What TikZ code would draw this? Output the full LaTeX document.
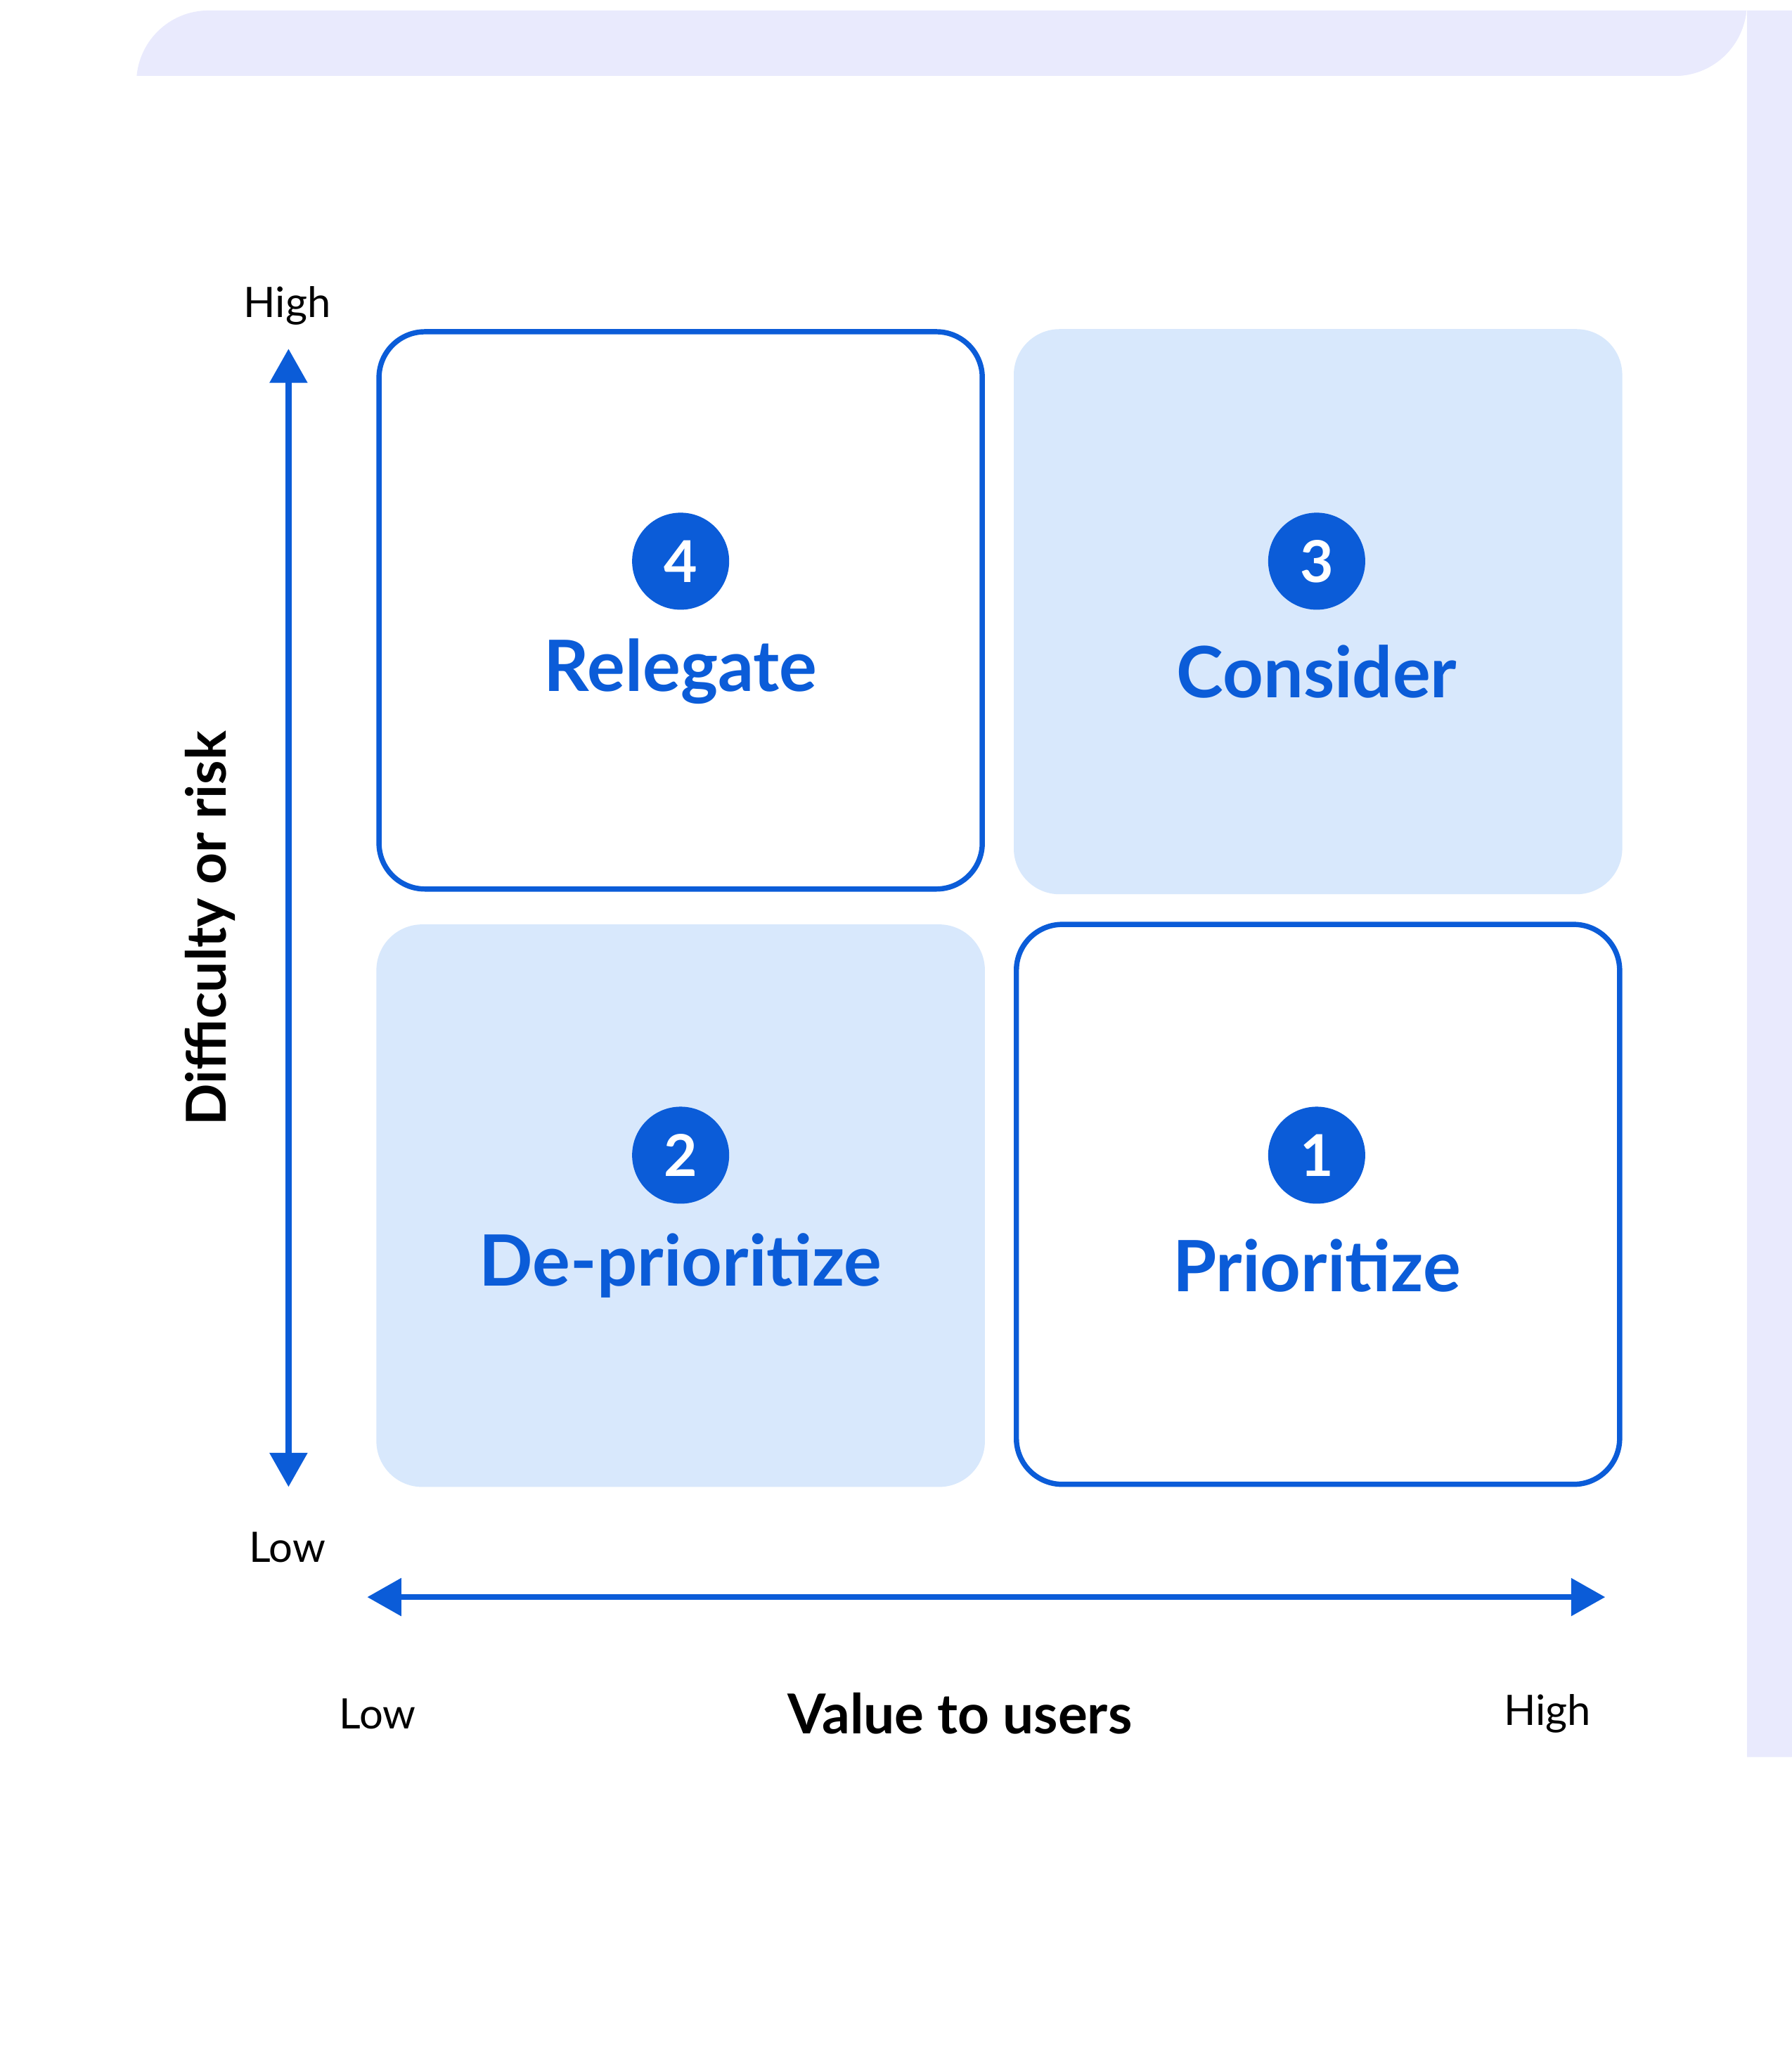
\documentclass[tikz,border=0pt]{standalone}
\usepackage{fontspec}
\setmainfont{Lato}
\usetikzlibrary{arrows.meta}
\definecolor{bl}{HTML}{0B5CD8}
\definecolor{lb}{HTML}{D8E8FC}
\definecolor{lav}{HTML}{E9EAFD}
\tikzset{
 quad/.style={rounded corners=35pt,line width=4pt},
 num/.style={circle,fill=bl,minimum size=74pt,inner sep=0pt,text=white,font=\fontsize{44}{44}\selectfont\bfseries},
 lab/.style={text=bl,font=\fontsize{54}{54}\selectfont\bfseries},
 ax/.style={bl,line width=4.5pt,{Triangle[length=26pt,width=28pt]}-{Triangle[length=26pt,width=28pt]}},
 small/.style={font=\fontsize{32}{32}\selectfont},
 big/.style={font=\fontsize{42}{42}\selectfont\bfseries}
}
\begin{document}
\begin{tikzpicture}[x=1pt,y=-1pt]
\useasboundingbox (0,0) rectangle (1366,1568);
\fill[white] (0,0) rectangle (1366,1568);
\fill[lav,rounded corners=55pt] (104,8) rectangle (1450,1340);
\fill[white] (0,58) -- (1277,58) arc[start angle=90,end angle=0,radius=55] -- (1332,1600) -- (0,1600) -- cycle;
\draw[quad,bl,fill=white] (289,253) rectangle (749,678);
\fill[quad,lb] (773,251) rectangle (1237,682);
\fill[quad,lb] (287,705) rectangle (751,1134);
\draw[quad,bl,fill=white] (775,705) rectangle (1235,1132);
\node[num] (n4) at (519,428) {4};
\node[num] (n3) at (1004,428) {3};
\node[num] (n2) at (519,881) {2};
\node[num] (n1) at (1004,881) {1};
\node[lab] (l4) at (519,512) {Relegate};
\node[lab] (l3) at (1004,512) {Consider};
\node[lab] (l2) at (519,965) {De-prioritize};
\node[lab] (l1) at (1004,965) {Prioritize};
\coordinate (vt) at (220,266);
\coordinate (vb) at (220,1134);
\coordinate (hl) at (280,1218);
\coordinate (hr) at (1224,1218);
\draw[ax] (vt) -- (vb);
\draw[ax] (hl) -- (hr);
\node[small] (yh) at (219,233) {High};
\node[small] (yl) at (219,1180) {Low};
\node[small] (xl) at (288,1307) {Low};
\node[small] (xh) at (1180,1307) {High};
\node[big] (xt) at (732,1307) {Value to users};
\node[big,rotate=90] (yt) at (160,708) {Difficulty or risk};
\end{tikzpicture}
\end{document}
